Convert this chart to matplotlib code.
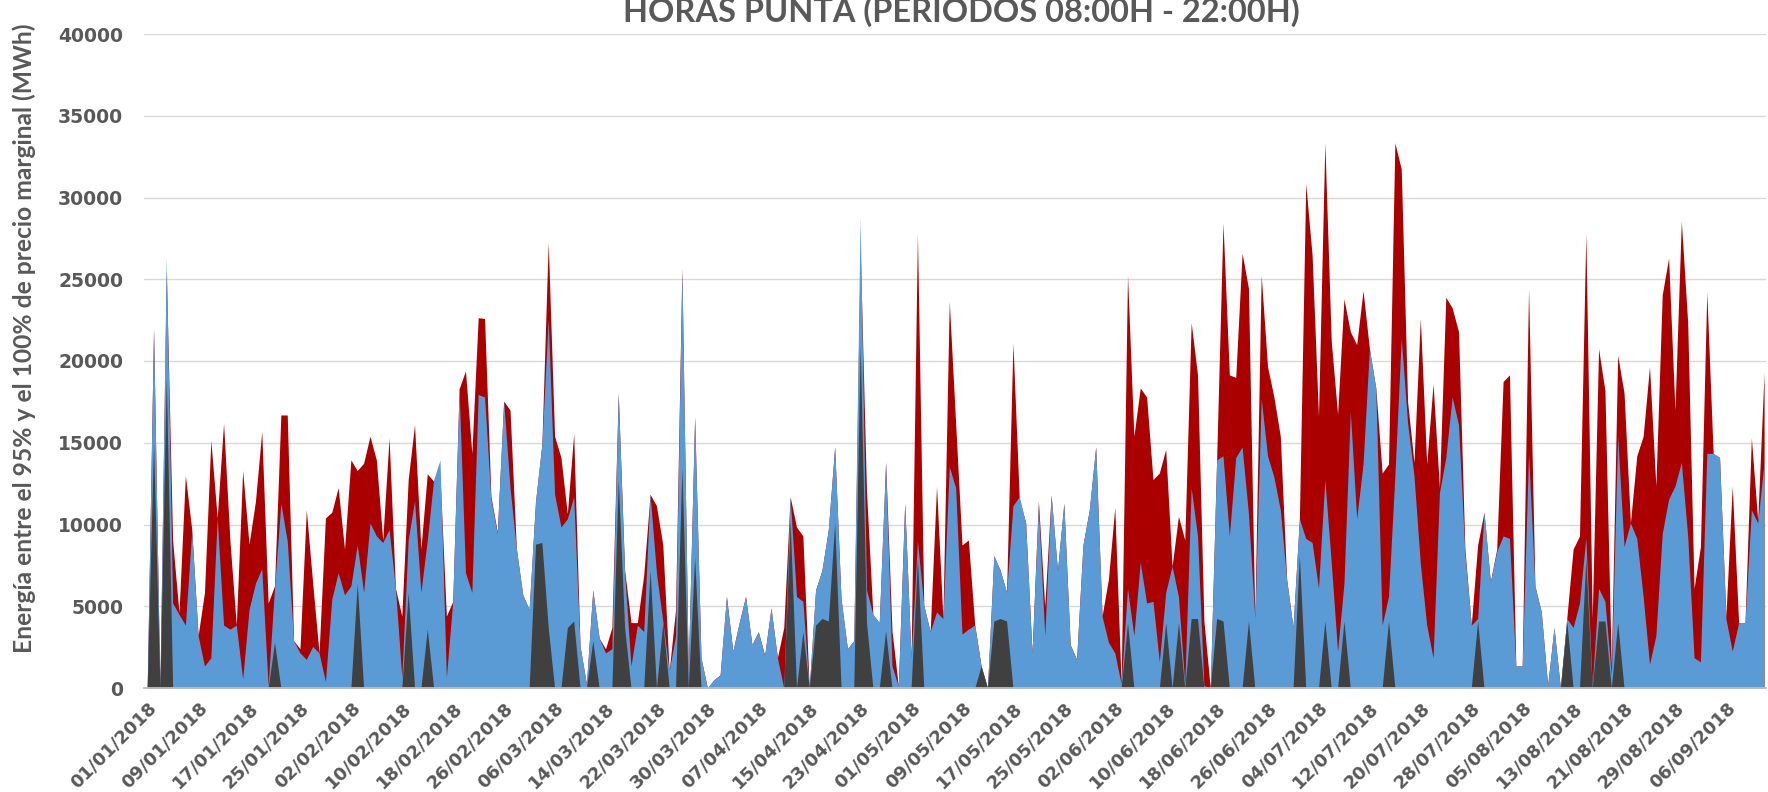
import matplotlib
matplotlib.use("Agg")
import matplotlib.pyplot as plt
import numpy as np
import pandas as pd

# Daily values from 01/01/2018 (MWh)
start_date = "2018-01-01"

red = [
    0, 22000, 0, 25500, 9000, 4600, 13000, 9700, 3200, 5850,
    15150, 10400, 16200, 9000, 3850, 13300, 8800, 11400, 15700, 5200,
    6250, 16700, 16700, 2900, 2400, 10900, 6400, 2150, 10400, 10750,
    12250, 8500, 13950, 13300, 13750, 15400, 13950, 9050, 15300, 6100,
    4400, 12750, 16100, 8500, 13100, 12650, 13000, 4400, 5300, 18300,
    19400, 14350, 22650, 22600, 11700, 9550, 17550, 17000, 8500, 5700,
    4800, 11400, 14900, 27250, 15400, 14100, 10650, 15550, 2550, 250,
    6000, 3050, 2400, 3700, 18050, 7200, 4000, 4000, 6900, 11850,
    11150, 8750, 1050, 4800, 25650, 1050, 16600, 1850, 0, 500,
    800, 5600, 2250, 4000, 5600, 2650, 3450, 2000, 4900, 1850,
    3700, 11700, 9850, 9300, 0, 6000, 7200, 9700, 14750, 5450,
    2400, 2900, 27000, 12000, 4500, 4000, 13800, 3500, 100, 11300,
    1850, 27800, 5050, 3450, 12350, 4250, 23650, 16200, 8750, 9050,
    3850, 1350, 0, 8100, 7200, 5850, 21100, 11550, 10100, 2150,
    11450, 5000, 11800, 7200, 11300, 2650, 1750, 8750, 10900, 14750,
    4400, 6650, 11050, 250, 25250, 15400, 18350, 17800, 12750, 13150,
    14600, 7450, 10500, 9050, 22350, 19150, 4100, 0, 13950, 28450,
    19150, 19000, 26600, 24450, 4250, 25250, 19650, 17800, 15400, 6650,
    3700, 10350, 30850, 26450, 16600, 33350, 21250, 16750, 23800, 21800,
    21000, 24300, 20750, 18350, 13150, 13700, 33350, 31750, 17500, 13800,
    22600, 13700, 18600, 12250, 23900, 23250, 21800, 8500, 3850, 8750,
    10750, 6500, 8500, 18750, 19150, 1350, 1350, 24450, 6250, 4650,
    150, 3700, 0, 4250, 8500, 9300, 27800, 4250, 20750, 18200,
    1350, 20350, 18050, 10100, 14200, 15400, 19650, 12350, 24050, 26300,
    17000, 28550, 22350, 6100, 8650, 24200, 14350, 14100, 4400, 12350,
    4000, 4000, 15300, 10250, 19300,
]

blue = [
    0, 22000, 0, 26400, 5200, 4500, 3850, 9600, 3200, 1350,
    1850, 10400, 3850, 3600, 3850, 550, 4800, 6400, 7300, 150,
    6100, 11300, 9000, 2900, 2150, 1750, 2550, 2150, 400, 5450,
    7050, 5700, 6250, 8750, 5850, 10100, 9300, 8900, 9700, 6100,
    650, 9050, 11450, 5850, 9050, 12750, 13950, 650, 5300, 18200,
    7050, 5850, 17950, 17800, 11550, 9450, 17550, 12250, 8500, 5700,
    4800, 11400, 14900, 22600, 11850, 9850, 10350, 11700, 2550, 250,
    6000, 3050, 2150, 2400, 18050, 7050, 1350, 3850, 3450, 11850,
    7050, 4100, 1050, 3200, 25650, 1050, 16600, 1850, 0, 500,
    800, 5600, 2250, 4000, 5600, 2650, 3450, 2000, 4900, 1850,
    0, 11700, 5600, 5300, 0, 6000, 7200, 9700, 14750, 5450,
    2400, 2900, 28800, 6000, 4500, 4000, 13800, 1350, 100, 11300,
    1850, 9000, 5050, 3450, 4650, 4250, 13550, 12250, 3300, 3600,
    3850, 1350, 0, 8100, 7200, 5850, 11150, 11700, 10100, 2150,
    11150, 3200, 11800, 7200, 11300, 2650, 1750, 8750, 10900, 14750,
    4400, 2800, 2150, 250, 6100, 3200, 7700, 5200, 5300, 1600,
    5850, 7450, 5600, 250, 12250, 9300, 150, 0, 13950, 14200,
    9300, 14100, 14750, 10650, 4250, 17700, 14200, 12900, 10900, 6650,
    3700, 10350, 9150, 8900, 6100, 12750, 7700, 2250, 6400, 16900,
    10350, 13700, 20750, 18350, 3850, 5600, 13000, 21400, 16200, 13000,
    7600, 3850, 1850, 11950, 14100, 17800, 16100, 8250, 3850, 4250,
    10750, 6500, 8350, 9300, 9150, 1350, 1350, 14350, 6250, 4650,
    150, 3700, 0, 4250, 3700, 5200, 9200, 150, 6100, 5300,
    800, 15400, 8650, 10100, 9150, 5600, 1450, 3200, 9450, 11550,
    12350, 13800, 9300, 1850, 1600, 14350, 14350, 14100, 4250, 2250,
    4000, 4000, 10900, 10100, 13800,
]

dark = [
    0, 15000, 0, 19000, 0, 0, 0, 0, 0, 0,
    0, 0, 0, 0, 0, 0, 0, 0, 0, 0,
    2800, 0, 0, 0, 0, 0, 0, 0, 0, 0,
    0, 0, 0, 6400, 0, 0, 0, 0, 0, 0,
    0, 5850, 0, 0, 3600, 0, 0, 0, 0, 0,
    0, 0, 0, 0, 0, 0, 0, 0, 0, 0,
    0, 8800, 8900, 3700, 0, 0, 3700, 4100, 0, 0,
    2900, 0, 0, 0, 12750, 3700, 0, 0, 0, 7200,
    0, 4000, 0, 0, 13500, 0, 8000, 0, 0, 0,
    0, 0, 0, 0, 0, 0, 0, 0, 0, 0,
    0, 10200, 0, 3450, 0, 3850, 4250, 4100, 10100, 0,
    0, 0, 21000, 4000, 0, 0, 3500, 0, 0, 0,
    0, 7900, 0, 0, 0, 0, 0, 0, 0, 0,
    0, 1350, 0, 4100, 4250, 4100, 0, 0, 0, 0,
    0, 0, 0, 0, 0, 0, 0, 0, 0, 0,
    0, 0, 0, 0, 4000, 0, 0, 0, 0, 0,
    4000, 0, 4000, 0, 4250, 4250, 0, 0, 4250, 4100,
    0, 0, 0, 4100, 0, 0, 0, 0, 0, 0,
    0, 8100, 0, 0, 0, 4100, 0, 0, 4100, 0,
    0, 0, 0, 0, 0, 4100, 0, 0, 0, 0,
    0, 0, 0, 0, 0, 0, 0, 0, 0, 4100,
    0, 0, 0, 0, 0, 0, 0, 0, 0, 0,
    0, 0, 0, 4100, 0, 0, 7900, 0, 4100, 4100,
    0, 4000, 0, 0, 0, 0, 0, 0, 0, 0,
    0, 0, 0, 0, 0, 0, 0, 0, 0, 0,
    0, 0, 0, 0, 0,
]

dates = pd.date_range(start_date, periods=len(red), freq="D")
x = np.arange(len(dates))
tick_pos = x[::8][:32]
tick_labels = [d.strftime("%d/%m/%Y") for d in dates[tick_pos]]

text_color = "#595959"

fig = plt.figure(figsize=(17.68, 7.92), dpi=100)
ax = fig.add_axes([144 / 1768, 1 - 688 / 792, (1766 - 144) / 1768, (688 - 34) / 792])

ax.fill_between(x, 0, red, color="#AA0000", linewidth=0)
ax.fill_between(x, 0, blue, color="#5B9BD5", linewidth=0)
ax.fill_between(x, 0, dark, color="#404040", linewidth=0)

ax.set_xlim(-0.5, 254.3)
ax.set_ylim(0, 40000)
ax.set_yticks(range(0, 40001, 5000))
ax.set_yticklabels([str(v) for v in range(0, 40001, 5000)])
ax.set_xticks(tick_pos)
ax.set_xticklabels(tick_labels, rotation=45, ha="right", va="top", rotation_mode="anchor")

ax.set_axisbelow(True)
ax.yaxis.grid(True, color="#D9D9D9", linewidth=1)
for s in ["left", "right", "top"]:
    ax.spines[s].set_visible(False)
ax.spines["bottom"].set_color("#BFBFBF")
ax.spines["bottom"].set_linewidth(1.3)
ax.spines["bottom"].set_zorder(5)

ax.tick_params(axis="y", length=0, pad=15, labelcolor=text_color, labelsize=13.5)
ax.tick_params(axis="x", length=0, pad=8, labelcolor=text_color, labelsize=13)
for lbl in ax.get_xticklabels() + ax.get_yticklabels():
    lbl.set_fontweight("bold")
    lbl.set_family("DejaVu Sans")

fig.text(24 / 1768, 1 - 338 / 792, "Energía entre el 95% y el 100% de precio marginal (MWh)",
         rotation=90, ha="center", va="center", fontsize=17.7, fontweight="bold",
         color=text_color, family="Lato")
fig.text(0.5435, 0.972, "HORAS PUNTA (PERIODOS 08:00H - 22:00H)", ha="center", va="baseline",
         fontsize=23.4, fontweight="bold", color=text_color, family="Lato")

fig.savefig("out.png", dpi=100)
